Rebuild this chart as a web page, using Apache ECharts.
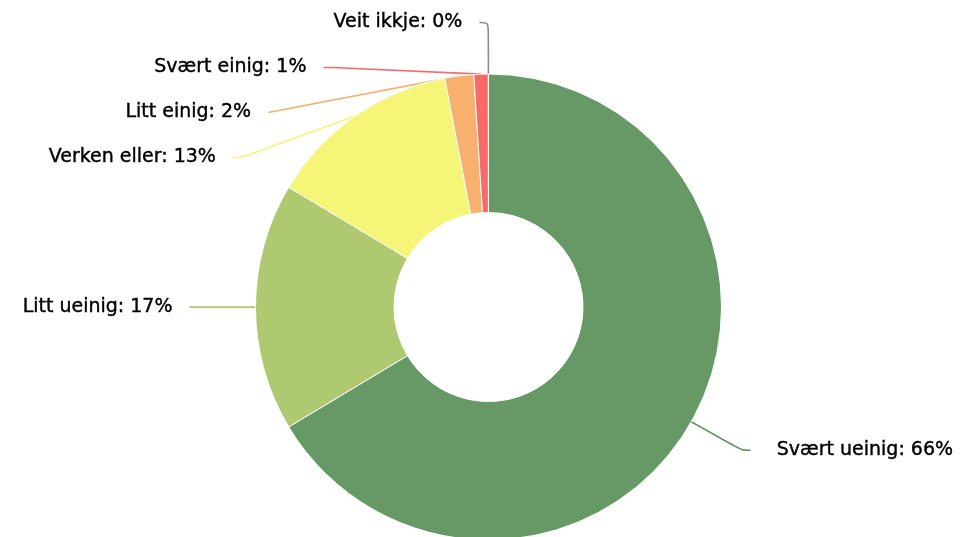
<!DOCTYPE html>
<html>
<head>
<meta charset="utf-8">
<script src="https://cdn.jsdelivr.net/npm/echarts@6/dist/echarts.min.js"></script>
<style>
  html, body { margin: 0; padding: 0; background: #fff; }
  #chart { width: 967px; height: 537px; }
</style>
</head>
<body>
<div id="chart"></div>
<script>
// svar på påstanden, i prosent
const categories = ['Svært ueinig', 'Litt ueinig', 'Verken eller', 'Litt einig', 'Svært einig', 'Veit ikkje']
const values = [66.4, 17.2, 13.4, 2.0, 1.0, 0]
const colors = ['#669966', '#aec970', '#f5f577', '#f8b06e', '#f86a6a', '#8c8c8c']

const chart = echarts.init(document.getElementById('chart'))

const option = {
  animation: false,
  series: [
    {
      type: 'pie',
      left: -40,
      top: 0,
      width: 1047,
      height: 537,
      center: [528.5, 307],
      radius: [94.5, 233],
      startAngle: 90.02,
      clockwise: true,
      avoidLabelOverlap: true,
      itemStyle: {
        borderColor: '#fff',
        borderWidth: 1
      },
      label: {
        show: true,
        fontFamily: 'DejaVu Sans',
        fontSize: 19,
        lineHeight: 43,
        color: '#000',
        textBorderColor: '#000',
        textBorderWidth: 0.4,
        padding: [0, 16, 0, 25],
        distanceToLabelLine: 1,
        formatter: function (p) {
          return p.name + ': ' + Math.round(p.percent) + '%'
        }
      },
      labelLine: {
        show: true,
        length: 58,
        length2: 9,
        smooth: 0.3,
        lineStyle: { width: 1.6 }
      },
      emphasis: { disabled: true },
      data: categories.map(function (name, i) {
        return { name: name, value: values[i], itemStyle: { color: colors[i] } }
      })
    }
  ]
}

chart.setOption(option)
</script>
</body>
</html>
